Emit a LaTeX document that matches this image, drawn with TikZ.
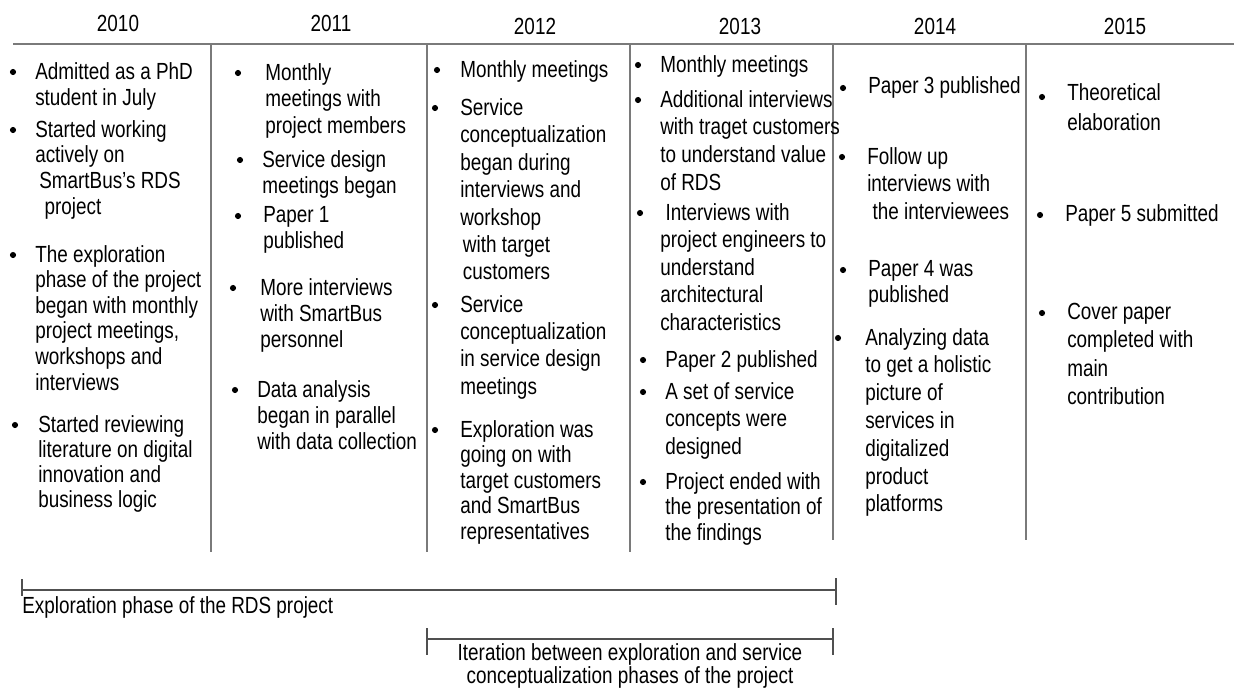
\documentclass[tikz,border=0pt]{standalone}
\usepackage{fontspec}
\setmainfont{Liberation Sans}[FakeStretch=0.81]
\usepackage{tikz}
\usetikzlibrary{positioning}
\definecolor{rulegray}{HTML}{7A7A7A}
\definecolor{spangray}{HTML}{505050}
\newcommand{\itemfont}{\fontsize{17.5}{20}\selectfont}
\tikzset{
  year/.style      = {font=\itemfont, inner sep=0pt},
  item/.style      = {anchor=north west, inner sep=0pt, align=left, font=\itemfont},
  lead/.style      = {execute at begin node={\setlength{\baselineskip}{#1}}},
  dot/.style       = {circle, fill=black, inner sep=0pt, minimum size=4.6pt},
  colrule/.style   = {draw=rulegray, line width=1.1pt},
  span/.style      = {draw=spangray, line width=0.8pt},
  spanlabel/.style = {font=\itemfont, inner sep=0pt, align=center},
}

\begin{document}
\begin{tikzpicture}[x=0.75pt, y=-0.75pt]
  \useasboundingbox (0,0) rectangle (1234,693);

  % years and grid
  \node[year] (y2010) at (118,23) {2010};
  \node[year] (y2011) at (331,23) {2011};
  \node[year] (y2012) at (535,26) {2012};
  \node[year] (y2013) at (740,26) {2013};
  \node[year] (y2014) at (935,26) {2014};
  \node[year] (y2015) at (1125,26) {2015};
  \draw[colrule] (13,44) -- (1234,44);
  \foreach \x/\yend in {211/552, 427/552, 630/552, 833/540, 1026/540}
    \draw[colrule] (\x,44) -- (\x,\yend);

  % 2010
  \node[dot] (b10a) at (13,72) {};
  \node[item, lead=19.5pt] (t10a) at (35,62) {Admitted as a PhD\\student in July};
  \node[dot] (b10b) at (13,130) {};
  \node[item, lead=19.3pt] (t10b) at (35,120) {Started working\\actively on\\\hspace*{3pt}SmartBus’s RDS\\\hspace*{7pt}project};
  \node[dot] (b10c) at (13,255) {};
  \node[item, lead=19.2pt] (t10c) at (35,245) {The exploration\\phase of the project\\began with monthly\\project meetings,\\workshops and\\interviews};
  \node[dot] (b10d) at (15,425) {};
  \node[item, lead=18.9pt] (t10d) at (38,415) {Started reviewing\\literature on digital\\innovation and\\business logic};

  % 2011
  \node[dot] (b11a) at (238,73) {};
  \node[item] (t11a) at (265,63) {Monthly\\meetings with\\project members};
  \node[dot] (b11b) at (240,160) {};
  \node[item] (t11b) at (262,150) {Service design\\meetings began};
  \node[dot] (b11c) at (238,216) {};
  \node[item] (t11c) at (263,206) {Paper 1\\published};
  \node[dot] (b11d) at (233,288) {};
  \node[item, lead=19.5pt] (t11d) at (260,278) {More interviews\\with SmartBus\\personnel};
  \node[dot] (b11e) at (235,390) {};
  \node[item, lead=19.5pt] (t11e) at (257,380) {Data analysis\\began in parallel\\with data collection};

  % 2012
  \node[dot] (b12a) at (437,70) {};
  \node[item] (t12a) at (460,60) {Monthly meetings};
  \node[dot] (b12b) at (435,108) {};
  \node[item, lead=20.6pt] (t12b) at (460,98) {Service\\conceptualization\\began during\\interviews and\\workshop\\\hspace*{2pt}with target\\\hspace*{2pt}customers};
  \node[dot] (b12c) at (435,305) {};
  \node[item, lead=20.5pt] (t12c) at (460,295) {Service\\conceptualization\\in service design\\meetings};
  \node[dot] (b12d) at (435,430) {};
  \node[item, lead=19.1pt] (t12d) at (460,420) {Exploration was\\going on with\\target customers\\and SmartBus\\representatives};

  % 2013
  \node[dot] (b13a) at (638,65) {};
  \node[item] (t13a) at (660,55) {Monthly meetings};
  \node[dot] (b13b) at (638,100) {};
  \node[item, lead=20.8pt] (t13b) at (660,90) {Additional interviews\\with traget customers\\to understand value\\of RDS};
  \node[dot] (b13c) at (640,213) {};
  \node[item, lead=20.6pt] (t13c) at (660,203) {\hspace*{4pt}Interviews with\\project engineers to\\understand\\architectural\\characteristics};
  \node[dot] (b13d) at (643,360) {};
  \node[item] (t13d) at (665,350) {Paper 2 published};
  \node[dot] (b13e) at (643,392) {};
  \node[item, lead=20.6pt] (t13e) at (665,382) {A set of service\\concepts were\\designed};
  \node[dot] (b13f) at (643,482) {};
  \node[item, lead=19.1pt] (t13f) at (665,472) {Project ended with\\the presentation of\\the findings};

  % 2014
  \node[dot] (b14a) at (843,88) {};
  \node[item] (t14a) at (868,76) {Paper 3 published};
  \node[dot] (b14b) at (842,157) {};
  \node[item, lead=20.6pt] (t14b) at (867,147) {Follow up\\interviews with\\\hspace*{4pt}the interviewees};
  \node[dot] (b14c) at (843,270) {};
  \node[item, lead=19.5pt] (t14c) at (868,260) {Paper 4 was\\published};
  \node[dot] (b14d) at (838,338) {};
  \node[item, lead=20.85pt] (t14d) at (865,328) {Analyzing data\\to get a holistic\\picture of\\services in\\digitalized\\product\\platforms};

  % 2015
  \node[dot] (b15a) at (1042,97) {};
  \node[item, lead=22.5pt] (t15a) at (1067,83) {Theoretical\\elaboration};
  \node[dot] (b15b) at (1040,215) {};
  \node[item] (t15b) at (1065,204) {Paper 5 submitted};
  \node[dot] (b15c) at (1042,313) {};
  \node[item, lead=21.2pt] (t15c) at (1067,303) {Cover paper\\completed with\\main\\contribution};

  % phase spans
  \draw[span] (22,579) -- (22,596) (22,590) -- (836,590) (836,578) -- (836,605);
  \node[spanlabel, anchor=north west] (span1) at (22,596) {Exploration phase of the RDS project};
  \draw[span] (427,628) -- (427,655) (427,639) -- (833,639) (833,628) -- (833,655);
  \node[spanlabel, anchor=north, lead=17.25pt] (span2) at (630,643) {Iteration between exploration and service\\conceptualization phases of the project};
\end{tikzpicture}
\end{document}
